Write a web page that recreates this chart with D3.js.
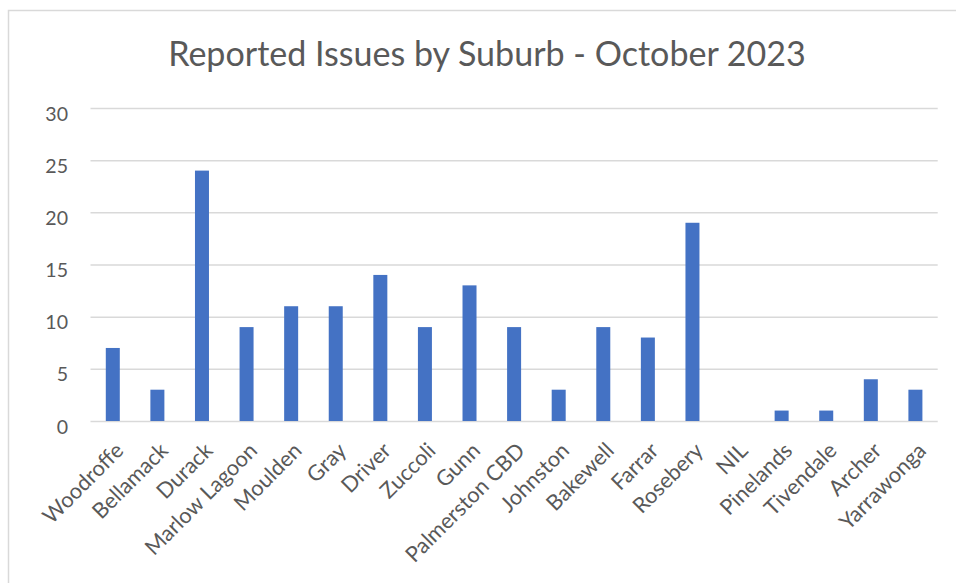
<!DOCTYPE html>
<html><head><meta charset="utf-8">
<script src="https://cdn.jsdelivr.net/npm/d3@7"></script>
<style>body{margin:0;background:#fff}svg{display:block}</style>
</head><body>
<script>
const categories = ["Woodroffe","Bellamack","Durack","Marlow Lagoon","Moulden","Gray","Driver","Zuccoli","Gunn","Palmerston CBD","Johnston","Bakewell","Farrar","Rosebery","NIL","Pinelands","Tivendale","Archer","Yarrawonga"];
const values = [7,3,24,9,11,11,14,9,13,9,3,9,8,19,0,1,1,4,3];
const yTicks = [0,5,10,15,20,25,30];
const title = "Reported Issues by Suburb - October 2023";

const W = 956, H = 583;
const font = "Lato, Open Sans, sans-serif";
const svg = d3.select("body").append("svg").attr("width", W).attr("height", H);
svg.append("rect").attr("x",8.5).attr("y",10.5).attr("width",W+10).attr("height",H+10)
  .attr("fill","#fff").attr("stroke","#d9d9d9").attr("stroke-width",1.5);

function fitSize(str, target, base) {
  const tmp = svg.append("text").attr("font-family", font).attr("font-size", base).text(str);
  const w = tmp.node().getComputedTextLength();
  tmp.remove();
  return w > 0 ? base * target / w : base;
}
const titleSize = fitSize(title, 638, 28);
const tickSize = fitSize("30", 22.7, 20);
const labelSize = fitSize("Palmerston CBD", 158, 20);

const x = d3.scaleBand().domain(categories).range([90.5, 937.7]).paddingInner(0.686).paddingOuter(0.343);
const y = d3.scaleLinear().domain([0,30]).range([421, 108]);

svg.append("text").attr("x", 487).attr("y", 66).attr("text-anchor","middle")
  .attr("font-family", font).attr("font-size", titleSize).attr("fill","#595959").text(title);

const yAxis = svg.append("g").attr("transform","translate(90.5,0)")
  .call(d3.axisLeft(y).tickValues(yTicks).tickSize(-847.2).tickPadding(22.5));
yAxis.select(".domain").remove();
yAxis.selectAll(".tick line").attr("stroke","#d9d9d9").attr("stroke-width",1.5);
yAxis.selectAll(".tick text").attr("font-family",font).attr("font-size",tickSize).attr("fill","#595959")
  .attr("dy",null).attr("y", 0).attr("transform","translate(0,12)");

svg.append("g").selectAll("rect").data(categories).join("rect")
  .attr("x", d => x(d)).attr("width", x.bandwidth())
  .attr("y", (d,i) => y(values[i])).attr("height", (d,i) => y(0) - y(values[i]))
  .attr("fill","#4472c4");

const xAxis = svg.append("g").attr("transform",`translate(0,${y(0)})`)
  .call(d3.axisBottom(x).tickSize(0).tickPadding(0));
xAxis.select(".domain").remove();
xAxis.selectAll(".tick text").attr("font-family",font).attr("font-size",labelSize).attr("fill","#595959")
  .attr("text-anchor","end").attr("dy",null).attr("y",0)
  .attr("transform","translate(12,31) rotate(-45)");
</script>
</body></html>
